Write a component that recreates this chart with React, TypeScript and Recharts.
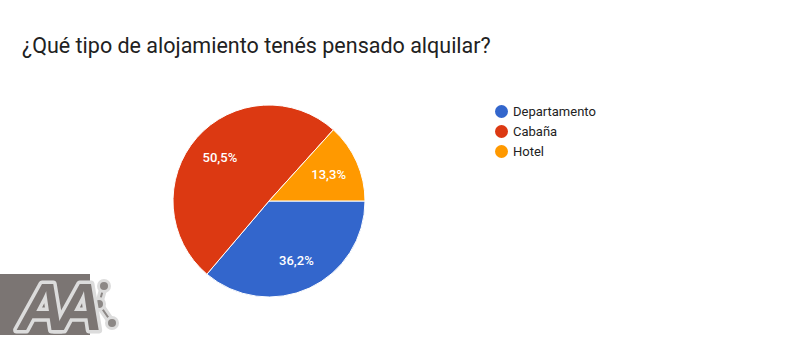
import React from "react";
import { PieChart, Pie, Cell } from "recharts";

const categories = ["Departamento", "Cabaña", "Hotel"];
const shares = [36.2, 50.5, 13.3];
const colors = ["#3366cc", "#dc3912", "#ff9900"];

const data = categories.map((name, i) => ({ name, value: shares[i] }));

const RAD = Math.PI / 180;

function renderLabel(props: any) {
  const { cx, cy, midAngle, outerRadius, value } = props;
  const r = outerRadius * 0.68;
  const x = cx + r * Math.cos(-midAngle * RAD);
  const y = cy + r * Math.sin(-midAngle * RAD);
  return (
    <text
      x={x}
      y={y}
      fill="#ffffff"
      fontSize={13}
      fontWeight={500}
      fontFamily="Roboto, Arial, sans-serif"
      textAnchor="middle"
      dominantBaseline="central"
    >
      {value.toFixed(1).replace(".", ",") + "%"}
    </text>
  );
}

function LegendList() {
  return (
    <div
      style={{
        position: "absolute",
        left: 495,
        top: 101,
        fontFamily: "Roboto, Arial, sans-serif",
        fontSize: 13,
        color: "#222",
      }}
    >
      {data.map((d, i) => (
        <div key={d.name} style={{ display: "flex", alignItems: "center", height: 20 }}>
          <span
            style={{
              width: 13,
              height: 13,
              borderRadius: "50%",
              background: colors[i],
              display: "inline-block",
              marginRight: 5,
            }}
          />
          {d.name}
        </div>
      ))}
    </div>
  );
}

function Logo() {
  const nodes = [
    [104, 22],
    [99, 40],
    [112, 59],
  ];
  return (
    <svg width={130} height={90} style={{ position: "absolute", left: 0, top: 264 }}>
      <rect x={0} y={10} width={90} height={61} fill="#7b7573" />
      <polyline
        points={nodes.map((n) => n.join(",")).join(" ")}
        stroke="#dcdcdc"
        strokeWidth={8}
        fill="none"
      />
      <polyline
        points={nodes.map((n) => n.join(",")).join(" ")}
        stroke="#8c8886"
        strokeWidth={2}
        fill="none"
      />
      {nodes.map(([x, y], i) => (
        <g key={i}>
          <circle cx={x} cy={y} r={7} fill="#dcdcdc" />
          <circle cx={x} cy={y} r={4} fill="#8c8886" />
        </g>
      ))}
      <text
        x={18}
        y={66}
        fontFamily="Arial, sans-serif"
        fontWeight="bold"
        fontStyle="italic"
        fontSize={66}
        fill="#7b7573"
        stroke="#dcdcdc"
        strokeWidth={7}
        strokeLinejoin="round"
        paintOrder="stroke"
        letterSpacing={-10}
      >
        AA
      </text>
    </svg>
  );
}

export default function App() {
  return (
    <div
      style={{
        position: "absolute",
        left: 0,
        top: 0,
        width: 785,
        height: 360,
        background: "#ffffff",
        overflow: "hidden",
      }}
    >
      <div
        style={{
          position: "absolute",
          left: 22,
          top: 33,
          fontFamily: "Roboto, Arial, sans-serif",
          fontSize: 21.5,
          color: "#212121",
          whiteSpace: "nowrap",
        }}
      >
        ¿Qué tipo de alojamiento tenés pensado alquilar?
      </div>
      <PieChart width={785} height={360} style={{ position: "absolute", left: 0, top: 0 }}>
        <Pie
          data={data}
          dataKey="value"
          nameKey="name"
          cx={264}
          cy={196}
          outerRadius={96}
          startAngle={0}
          endAngle={-360}
          stroke="#ffffff"
          strokeWidth={1}
          label={renderLabel}
          labelLine={false}
          isAnimationActive={false}
        >
          {data.map((d, i) => (
            <Cell key={d.name} fill={colors[i]} />
          ))}
        </Pie>
      </PieChart>
      <LegendList />
      <Logo />
    </div>
  );
}
